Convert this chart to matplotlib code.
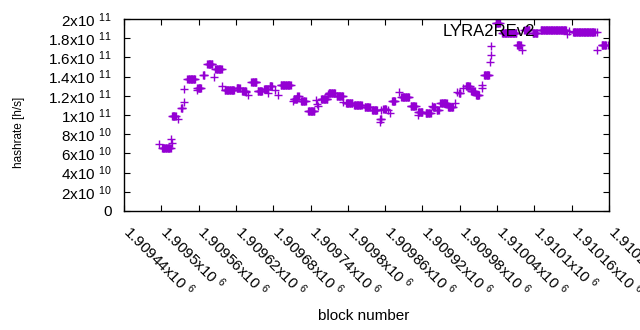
import numpy as np
import matplotlib
matplotlib.use("Agg")
import matplotlib.pyplot as plt
from matplotlib.transforms import ScaledTranslation

plt.rcParams['font.family'] = ['Liberation Sans', 'DejaVu Sans']
plt.rcParams['mathtext.fontset'] = 'custom'
plt.rcParams['mathtext.rm'] = 'Liberation Sans'
plt.rcParams['mathtext.default'] = 'regular'

# hashrate estimates: first block of each run, how many blocks it held, value (h/s)
run_start = [1909496, 1909501, 1909516, 1909517, 1909517, 1909527, 1909532, 1909536,
             1909537, 1909542, 1909557, 1909558, 1909567, 1909574, 1909584, 1909587,
             1909597, 1909602, 1909610, 1909621, 1909630, 1909637, 1909640, 1909645,
             1909655, 1909665, 1909672, 1909674, 1909683, 1909687, 1909692, 1909711,
             1909713, 1909719, 1909725, 1909736, 1909749, 1909750, 1909752, 1909757,
             1909768, 1909769, 1909782, 1909792, 1909797, 1909810, 1909827, 1909839,
             1909851, 1909852, 1909854, 1909857, 1909865, 1909868, 1909871, 1909882,
             1909886, 1909901, 1909913, 1909913, 1909925, 1909935, 1909937, 1909943,
             1909949, 1909961, 1909972, 1909976, 1909979, 1909985, 1909990, 1909998,
             1910006, 1910015, 1910016, 1910019, 1910029, 1910030, 1910031, 1910038,
             1910048, 1910072, 1910080, 1910084, 1910097, 1910110, 1910153, 1910162,
             1910200, 1910201, 1910208, 1910218]
run_len = [1, 15, 1, 1, 7, 1, 3, 1,
           1, 13, 1, 7, 3, 9, 1, 11,
           1, 8, 8, 6, 7, 1, 1, 9,
           8, 7, 1, 5, 1, 1, 17, 1,
           6, 3, 8, 11, 1, 1, 1, 11,
           1, 11, 11, 1, 11, 13, 9, 9,
           1, 3, 1, 5, 1, 1, 6, 1,
           13, 9, 1, 8, 9, 1, 4, 4,
           11, 9, 1, 1, 3, 1, 7, 7,
           6, 1, 1, 9, 1, 1, 1, 7,
           24, 7, 1, 9, 9, 42, 1, 36,
           1, 1, 8, 1]
hashrate_e9 = [69.8, 65.6, 74.7, 71.1, 99.3, 95.8, 107.0, 113.2,
               126.8, 137.2, 126.0, 128.6, 141.4, 153.1, 139.9, 147.6,
               130.2, 126.4, 126.0, 128.6, 125.3, 123.6, 120.8, 134.1,
               125.5, 126.6, 123.2, 129.7, 126.0, 120.8, 131.3, 114.6,
               116.7, 119.8, 114.6, 104.2, 115.6, 111.5, 109.4, 116.4,
               121.9, 122.6, 119.5, 113.2, 112.2, 110.1, 108.0, 104.9,
               92.7, 95.5, 105.2, 106.3, 105.2, 101.8, 114.3, 124.3,
               118.4, 109.1, 100.0, 102.8, 102.4, 109.4, 108.6, 105.2,
               112.2, 108.6, 112.2, 124.3, 122.6, 127.8, 129.9, 124.7,
               120.8, 131.3, 128.1, 141.4, 154.9, 162.5, 171.9, 196.2,
               185.9, 172.9, 167.2, 188.9, 185.2, 188.2, 184.4, 186.2,
               186.2, 167.2, 172.6, 172.9]

x_ticks = list(range(1909440, 1910221, 60))
x_labels = ['1.90944', '1.9095', '1.90956', '1.90962', '1.90968', '1.90974', '1.9098',
            '1.90986', '1.90992', '1.90998', '1.91004', '1.9101', '1.91016', '1.91022']
y_ticks = [0, 2e10, 4e10, 6e10, 8e10, 1e11, 1.2e11, 1.4e11, 1.6e11, 1.8e11, 2e11]
y_labels = ['0', '2x10 $^{10}$', '4x10 $^{10}$', '6x10 $^{10}$', '8x10 $^{10}$', '1x10 $^{11}$',
            '1.2x10 $^{11}$', '1.4x10 $^{11}$', '1.6x10 $^{11}$', '1.8x10 $^{11}$', '2x10 $^{11}$']

# one point per block
blocks = np.concatenate([s + np.arange(n) for s, n in zip(run_start, run_len)])
values = np.repeat(np.array(hashrate_e9) * 1e9, run_len)

fig = plt.figure(figsize=(6.4, 3.3), dpi=100)
ax = fig.add_axes([124 / 640, 1 - 211 / 330, 485 / 640, 192 / 330])

ax.plot(blocks, values, linestyle='none', marker='+', markersize=6,
        markeredgewidth=1.0, color='#9400d3', label='LYRA2REv2')

ax.set_xlim(1909440, 1910220)
ax.set_ylim(0, 2e11)
ax.set_xticks(x_ticks)
ax.set_yticks(y_ticks)
ax.set_yticklabels(y_labels)
ax.tick_params(direction='in', length=4, width=0.8, top=True, right=True,
               labelsize=11, colors='black')
ax.tick_params(axis='x', pad=16)
ax.tick_params(axis='y', pad=9)
ax.set_xticklabels([s + 'x10 $^{6}$' for s in x_labels], rotation=-45,
                   ha='left', va='baseline', rotation_mode='anchor')
for s in ax.spines.values():
    s.set_linewidth(1.0)

ax.set_xlabel('block number', fontsize=11)
ax.xaxis.set_label_coords(0.495, -0.51)
ax.set_ylabel('hashrate [h/s]', fontsize=8.5)
ax.yaxis.set_label_coords(-0.204, 0.41)

fig.legend(loc='center right', bbox_to_anchor=(590 / 640, 1 - 32 / 330),
           frameon=False, markerfirst=False, handlelength=2.5, handletextpad=0.8,
           borderpad=0, borderaxespad=0, fontsize=12)

# nudge rotated labels so the first glyph starts at the tick
shift = ScaledTranslation(-2 / 100, 0, fig.dpi_scale_trans)
for lab in ax.get_xticklabels():
    lab.set_transform(lab.get_transform() + shift)

fig.savefig('out.png', dpi=100)
